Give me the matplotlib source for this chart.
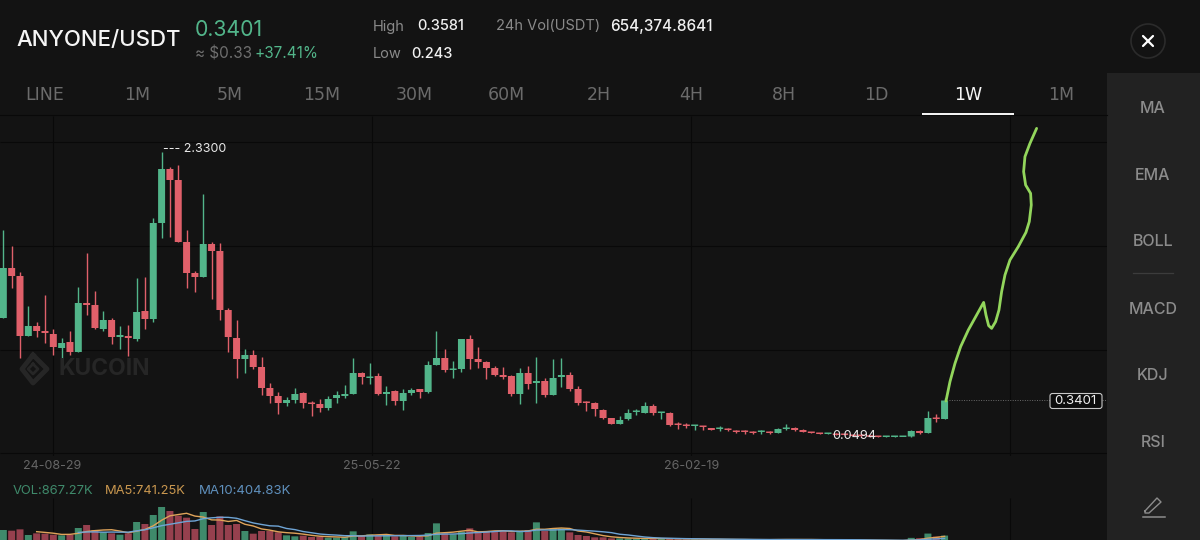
import numpy as np
import pandas as pd
from matplotlib import pyplot as plt
from matplotlib.patches import Circle, FancyBboxPatch, Rectangle

# Weekly candles
opens = [1.000, 1.400, 1.336, 0.856, 0.936, 0.896, 0.872, 0.760, 0.808, 0.728,
         1.120, 1.104, 0.912, 0.984, 0.848, 0.856, 0.832, 1.056, 0.992, 1.760,
         2.192, 2.104, 1.608, 1.360, 1.328, 1.592, 1.536, 1.064, 0.840, 0.672,
         0.704, 0.608, 0.440, 0.376, 0.320, 0.344, 0.400, 0.320, 0.312, 0.280,
         0.360, 0.376, 0.392, 0.560, 0.520, 0.536, 0.392, 0.416, 0.336, 0.400,
         0.432, 0.408, 0.624, 0.680, 0.584, 0.592, 0.832, 0.672, 0.648, 0.600,
         0.544, 0.536, 0.392, 0.560, 0.480, 0.496, 0.384, 0.528, 0.544, 0.432,
         0.328, 0.320, 0.264, 0.200, 0.152, 0.192, 0.248, 0.240, 0.296, 0.240,
         0.240, 0.152, 0.144, 0.136, 0.136, 0.120, 0.112, 0.112, 0.096, 0.096,
         0.088, 0.088, 0.088, 0.080, 0.112, 0.120, 0.104, 0.088, 0.080, 0.072,
         0.072, 0.072, 0.064, 0.064, 0.056, 0.056, 0.048, 0.048, 0.048, 0.052,
         0.096, 0.080, 0.200, 0.192]
highs = [1.704, 1.576, 1.368, 1.096, 0.968, 1.184, 0.912, 0.840, 0.896, 1.248,
         1.520, 1.216, 1.056, 1.000, 0.936, 0.944, 1.320, 1.328, 1.800, 2.330,
         2.208, 2.224, 1.704, 1.376, 1.992, 1.608, 1.600, 1.080, 0.984, 0.752,
         0.744, 0.688, 0.480, 0.408, 0.368, 0.440, 0.408, 0.336, 0.352, 0.376,
         0.416, 0.464, 0.680, 0.568, 0.640, 0.560, 0.456, 0.424, 0.432, 0.440,
         0.432, 0.656, 0.896, 0.752, 0.656, 0.832, 0.864, 0.768, 0.656, 0.616,
         0.608, 0.544, 0.600, 0.616, 0.688, 0.520, 0.672, 0.680, 0.568, 0.456,
         0.336, 0.328, 0.272, 0.200, 0.216, 0.272, 0.272, 0.328, 0.312, 0.248,
         0.248, 0.168, 0.160, 0.144, 0.136, 0.120, 0.136, 0.120, 0.104, 0.104,
         0.096, 0.104, 0.096, 0.120, 0.152, 0.128, 0.112, 0.088, 0.080, 0.080,
         0.080, 0.072, 0.064, 0.064, 0.056, 0.056, 0.056, 0.056, 0.052, 0.104,
         0.104, 0.256, 0.232, 0.3581]
lows = [1.000, 1.240, 0.680, 0.856, 0.848, 0.800, 0.704, 0.608, 0.704, 0.728,
        1.024, 0.912, 0.896, 0.792, 0.752, 0.696, 0.816, 0.912, 0.968, 1.640,
        1.648, 1.608, 1.240, 1.208, 1.328, 1.152, 0.984, 0.728, 0.520, 0.560,
        0.592, 0.384, 0.320, 0.232, 0.296, 0.320, 0.280, 0.216, 0.248, 0.264,
        0.320, 0.360, 0.392, 0.472, 0.472, 0.384, 0.304, 0.304, 0.264, 0.384,
        0.360, 0.400, 0.624, 0.568, 0.520, 0.568, 0.592, 0.600, 0.512, 0.536,
        0.512, 0.376, 0.312, 0.432, 0.320, 0.368, 0.384, 0.448, 0.416, 0.304,
        0.256, 0.216, 0.192, 0.152, 0.152, 0.184, 0.224, 0.240, 0.224, 0.192,
        0.136, 0.112, 0.120, 0.104, 0.104, 0.104, 0.096, 0.096, 0.080, 0.072,
        0.072, 0.072, 0.072, 0.080, 0.104, 0.096, 0.088, 0.080, 0.072, 0.072,
        0.064, 0.064, 0.056, 0.0494, 0.050, 0.048, 0.048, 0.048, 0.048, 0.048,
        0.072, 0.080, 0.168, 0.192]
closes = [1.400, 1.336, 0.856, 0.936, 0.896, 0.880, 0.768, 0.800, 0.728, 1.120,
          1.104, 0.920, 0.984, 0.848, 0.864, 0.840, 1.048, 0.992, 1.760, 2.192,
          2.104, 1.608, 1.360, 1.328, 1.592, 1.536, 1.064, 0.848, 0.672, 0.704,
          0.608, 0.440, 0.376, 0.320, 0.344, 0.392, 0.320, 0.312, 0.280, 0.352,
          0.384, 0.392, 0.560, 0.528, 0.528, 0.392, 0.408, 0.336, 0.400, 0.424,
          0.408, 0.624, 0.680, 0.584, 0.592, 0.832, 0.672, 0.648, 0.600, 0.544,
          0.528, 0.392, 0.560, 0.472, 0.496, 0.384, 0.520, 0.544, 0.432, 0.320,
          0.320, 0.272, 0.200, 0.152, 0.184, 0.240, 0.256, 0.296, 0.240, 0.248,
          0.144, 0.144, 0.136, 0.144, 0.128, 0.104, 0.120, 0.104, 0.088, 0.088,
          0.080, 0.096, 0.080, 0.112, 0.120, 0.104, 0.088, 0.080, 0.072, 0.080,
          0.064, 0.064, 0.056, 0.056, 0.050, 0.048, 0.056, 0.056, 0.052, 0.096,
          0.080, 0.200, 0.192, 0.3401]

# Volume in thousands
volumes = [1760, 1650, 1865, 960, 1225, 1170, 1010, 905, 1010, 2080,
           2560, 1760, 1385, 1225, 1010, 1225, 3040, 2720, 4160, 5440,
           4800, 4050, 3730, 1920, 4640, 2560, 3945, 2560, 2720, 1600,
           1170, 1600, 1600, 1385, 905, 745, 850, 640, 690, 530,
           530, 640, 1545, 850, 1065, 850, 960, 745, 850, 640,
           690, 1280, 2825, 1225, 1065, 1490, 2025, 1490, 1490, 1600,
           1650, 1385, 1650, 1760, 2985, 1600, 2025, 2025, 1385, 960,
           800, 585, 585, 425, 425, 425, 370, 425, 370, 320,
           425, 300, 280, 270, 260, 250, 260, 230, 220, 220,
           210, 220, 200, 290, 270, 220, 210, 200, 190, 180,
           180, 170, 165, 160, 70, 65, 70, 62, 75, 500,
           450, 1189, 700, 867.27]

# The hand drawn green line, in candle number and price
scribble_x = [113.17, 113.65, 114.25, 114.93, 115.85, 116.85, 117.69, 117.97,
              118.29, 118.65, 119.13, 119.53, 119.85, 120.25, 120.85, 121.85,
              122.77, 123.17, 123.41, 123.33, 122.73, 122.49, 122.65, 123.25,
              124.05]
scribble_y = [0.336, 0.491, 0.637, 0.771, 0.904, 1.024, 1.125, 1.024, 0.939,
              0.917, 0.971, 1.064, 1.211, 1.344, 1.464, 1.571, 1.685, 1.771,
              1.904, 1.997, 2.064, 2.171, 2.291, 2.397, 2.517]

grid_x = [6, 44.3, 82.6, 120.9]
grid_y = [2.408, 1.576, 0.744, -0.08]
date_labels = ['24-08-29', '25-05-22', '26-02-19']
tab_labels = ['LINE', '1M', '5M', '15M', '30M', '60M', '2H', '4H', '8H', '1D', '1W', '1M']
side_labels = ['MA', 'EMA', 'BOLL', 'MACD', 'KDJ', 'RSI']

BG = '#131313'
PANEL = '#222222'
GRID = '#090909'
GREEN = '#52b58a'
RED = '#e0606a'
VOL_GREEN = '#3f8a6b'
VOL_RED = '#96404e'

plt.rcParams['font.family'] = ['Inter', 'DejaVu Sans']

fig = plt.figure(figsize=(12, 5.4), dpi=100, facecolor=BG)


def axes_from_pixels(left, top, right, bottom, zorder):
    # Pixel box of the 1200x540 picture to figure fractions
    ax = fig.add_axes([left / 1200, 1 - bottom / 540, (right - left) / 1200, (bottom - top) / 540])
    ax.set_zorder(zorder)
    ax.patch.set_alpha(0)
    for spine in ax.spines.values():
        spine.set_visible(False)
    ax.set_xticks([])
    ax.set_yticks([])
    return ax


# Page layer, everything here is placed in picture pixels
page = axes_from_pixels(0, 0, 1200, 540, 0)
page.set_xlim(0, 1200)
page.set_ylim(540, 0)
page.add_patch(Rectangle((1107, 73), 93, 467, color=PANEL, lw=0))
page.plot([0, 1107], [115, 115], color=GRID, lw=0.8)

# Candle pane
x = np.arange(len(opens))
o = np.array(opens)
c = np.array(closes)
up = c >= o
candle_colors = np.where(up, GREEN, RED)

ax = axes_from_pixels(0, 116, 1107, 456, 1)
ax.set_xlim(-0.4, 132.5)
ax.set_ylim(-0.104, 2.616)
ax.vlines(grid_x, -0.104, 2.616, color=GRID, lw=0.8, zorder=1)
ax.hlines(grid_y, -0.4, 132.5, color=GRID, lw=0.8, zorder=1)
ax.vlines(x, lows, highs, color=candle_colors, lw=1.0, zorder=2)
bodies = ax.bar(x, np.maximum(np.abs(c - o), 0.012), bottom=np.minimum(o, c), width=0.84,
                color=candle_colors, zorder=3)
for body in bodies:
    body.set_snap(False)
ax.plot(scribble_x, scribble_y, color='#93d65c', lw=2.0, zorder=5,
        solid_capstyle='round', solid_joinstyle='round')
ax.hlines(closes[-1], 113.5, 132.5, color='#6a6a6a', lw=0.7, linestyles=(0, (1, 1.5)), zorder=2)

# Volume pane, runs off the bottom of the picture
vol = pd.Series(volumes)
ma5 = vol.rolling(5).mean()
ma10 = vol.rolling(10).mean()

ax_vol = axes_from_pixels(0, 498, 1107, 540, 1)
ax_vol.set_xlim(-0.4, 132.5)
ax_vol.set_ylim(160, 6880)
ax_vol.vlines(grid_x, 0, 6880, color=GRID, lw=0.8, zorder=1)
vol_bars = ax_vol.bar(x, volumes, width=0.84, color=np.where(up, VOL_GREEN, VOL_RED), zorder=2)
for bar in vol_bars:
    bar.set_snap(False)
ax_vol.plot(x, ma5, color='#e0a45a', lw=1.0, zorder=3)
ax_vol.plot(x, ma10, color='#6fa5d6', lw=1.0, zorder=4)

# Text and controls on top
top = axes_from_pixels(0, 0, 1200, 540, 2)
top.set_xlim(0, 1200)
top.set_ylim(540, 0)


def label(px, py, text, color, size, ha='left', **kw):
    # Inter sits a little high with va=center, so push it down
    top.text(px, py + 1.5, text, color=color, fontsize=size, ha=ha, va='center', **kw)


label(16, 39, 'ANYONE/USDT', '#f5f5f5', 16, fontweight='medium')
label(195, 28, '0.3401', GREEN, 15.3)
label(195, 52, '≈ $0.33', '#6e6e6e', 11)
label(255, 52, '+37.41%', GREEN, 11)
label(373, 25, 'High', '#8a8a8a', 10.5)
label(417, 25, '0.3581', '#f0f0f0', 10.5, fontweight='medium')
label(496, 25, '24h Vol(USDT)', '#8a8a8a', 10.5)
label(610, 25, '654,374.8641', '#f0f0f0', 11, fontweight='medium')
label(373, 52, 'Low', '#8a8a8a', 10.5)
label(411, 52, '0.243', '#f0f0f0', 10.5, fontweight='medium')

tab_centres = np.linspace(45, 1061, len(tab_labels))
for tx, tab in zip(tab_centres, tab_labels):
    selected = tab == '1W'
    label(tx, 94, tab, '#f5f5f5' if selected else '#6b6b6b', 12.5, ha='center',
          family='DejaVu Sans')
top.add_patch(Rectangle((922, 113), 92, 2.4, color='#f2f2f2', lw=0))

side_y = [107, 174, 240, 308, 374, 441]
for sy, name in zip(side_y, side_labels):
    label(1153, sy, name, '#8c8c8c', 11.5, ha='center', fontweight='medium')
top.plot([1133, 1173], [273, 273], color='#3c3c3c', lw=0.9)

# Pencil icon
top.plot([1145, 1157, 1161, 1149, 1145, 1145], [511, 498, 502, 513, 513, 511], color='#8c8c8c', lw=1.0)
top.plot([1143, 1165], [516.5, 516.5], color='#8c8c8c', lw=1.1)

# Close button
top.add_patch(Circle((1148, 41), 17, fc='none', ec='#2b2b2b', lw=1.2))
top.plot([1143, 1153], [36, 46], color='white', lw=1.6, solid_capstyle='round')
top.plot([1143, 1153], [46, 36], color='white', lw=1.6, solid_capstyle='round')

# Value labels on the chart
label(163, 147, '--- 2.3300', '#e8e8e8', 9)
label(854, 434.5, '0.0494', '#e8e8e8', 9.2, ha='center')
top.add_patch(FancyBboxPatch((1050, 393.5), 52, 15, boxstyle='round,pad=0,rounding_size=2.5',
                             fc='#0c0c0c', ec='#c8c8c8', lw=0.8))
label(1075.5, 400, '0.3401', '#f0f0f0', 9.5, ha='center')

for dx, date in zip([52, 372, 692], date_labels):
    label(dx, 464.5, date, '#666666', 9, ha='center')

label(13, 490, 'VOL:867.27K', VOL_GREEN, 9.3)
label(105, 490, 'MA5:741.25K', '#c9974f', 9.3)
label(199, 490, 'MA10:404.83K', '#5f90bd', 9.5)

# Watermark
top.plot([33, 22, 33, 47, 33], [355, 369, 383, 369, 355], color='#262626', lw=3.5)
top.plot([33, 28, 33, 38, 33], [364, 369, 374, 369, 364], color='#262626', lw=2)
label(58, 367.5, 'KUCOIN', '#262626', 16.5, fontweight='bold')

fig.savefig('out.png', dpi=100, facecolor=fig.get_facecolor())
